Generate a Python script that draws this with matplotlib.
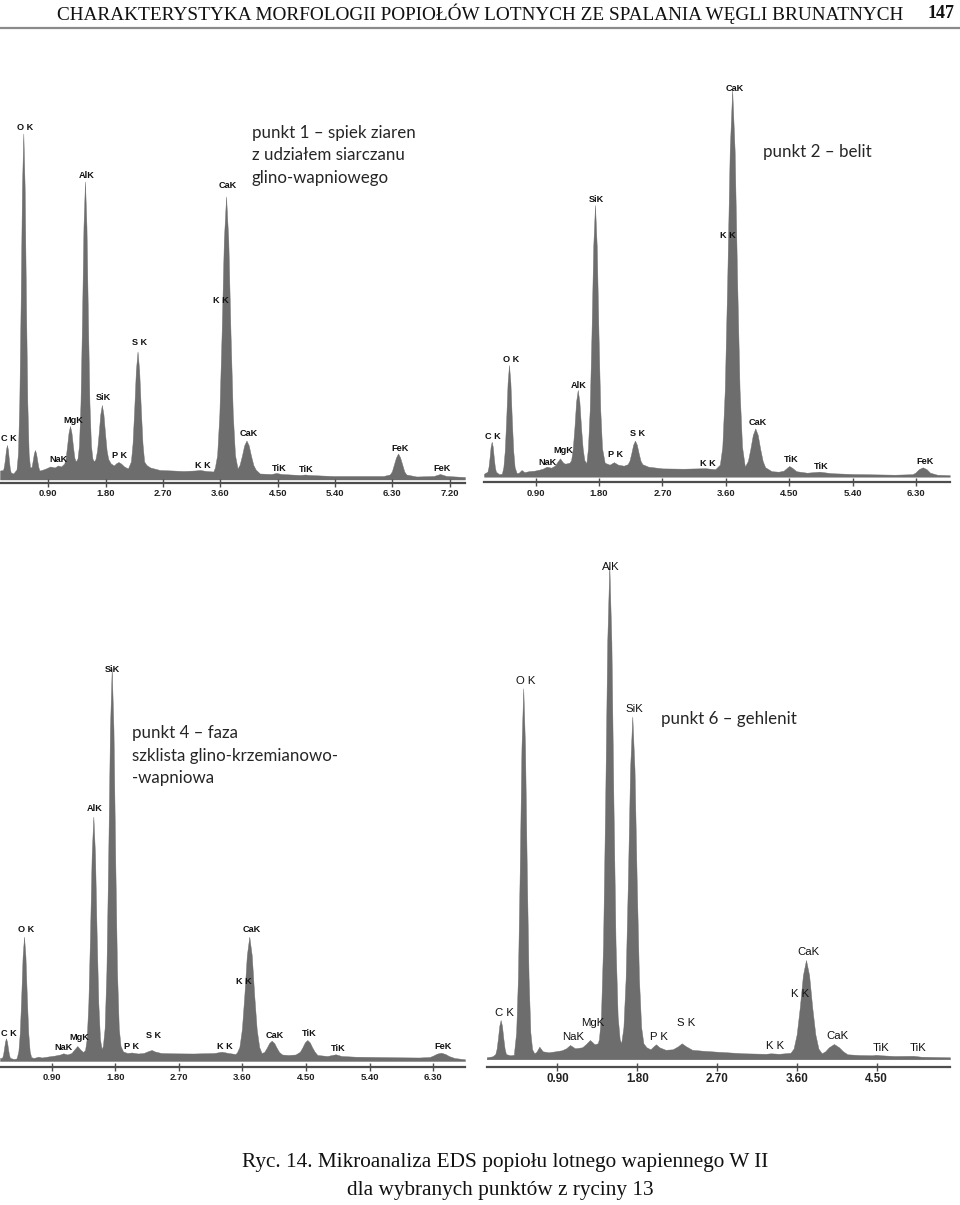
import matplotlib
matplotlib.use('Agg')
import matplotlib.pyplot as plt
from matplotlib.lines import Line2D
from matplotlib import font_manager

# ---------------------------------------------------------------- data
header_text = "CHARAKTERYSTYKA MORFOLOGII POPIOŁÓW LOTNYCH ZE SPALANIA WĘGLI BRUNATNYCH"
page_number = "147"
caption_lines = ["Ryc. 14. Mikroanaliza EDS popiołu lotnego wapiennego W II",
                 "dla wybranych punktów z ryciny 13"]

# panel 1 – spectrum outline (keV, counts)
p1_energy = [0.141, 0.19, 0.205, 0.22, 0.235, 0.25, 0.265, 0.28, 0.295, 0.31, 0.35,
             0.40, 0.423, 0.444, 0.465, 0.486, 0.507, 0.528, 0.549, 0.57, 0.591, 0.612,
             0.6375, 0.655, 0.6725, 0.69, 0.7075, 0.725, 0.7425, 0.76, 0.795, 0.86, 0.93, 1.0, 1.05, 1.1,
             1.15, 1.1725, 1.195, 1.2175, 1.24, 1.2625, 1.285, 1.3075, 1.33,
             1.358, 1.381, 1.4045, 1.428, 1.4515, 1.475, 1.4985, 1.522, 1.5455, 1.569, 1.592,
             1.615, 1.64, 1.665, 1.69, 1.715, 1.74, 1.765, 1.79, 1.815, 1.84, 1.88,
             1.93, 1.96, 2.0, 2.04, 2.09, 2.15,
             2.196, 2.222, 2.248, 2.274, 2.30, 2.326, 2.352, 2.378, 2.404, 2.44, 2.5, 2.65, 2.85, 3.02, 3.2, 3.28, 3.38, 3.49,
             3.515, 3.55, 3.585, 3.62, 3.655, 3.69, 3.725, 3.76, 3.795, 3.83, 3.87,
             3.902, 3.938, 3.974, 4.01, 4.046, 4.082, 4.118, 4.154, 4.22, 4.4, 4.48, 4.56, 4.85, 4.93, 5.0, 5.37, 5.8, 6.16,
             6.26, 6.2925, 6.325, 6.3575, 6.39, 6.4225, 6.455, 6.4875, 6.52, 6.68, 6.95, 7.05, 7.15, 7.44]
p1_counts = [9, 9.5, 14, 21, 30, 34.5, 30, 20, 11, 7, 6,
             10, 26, 77, 176, 292, 346, 292, 176, 77, 26, 12,
             12.5, 19, 26, 29.5, 26, 19, 12.5, 9, 9.5, 11, 13, 12, 14, 13,
             16, 22, 34, 47, 53.5, 47, 34, 22, 18,
             21, 34, 76, 158, 253, 298, 253, 158, 76, 34, 21,
             18, 20.5, 29, 46, 65, 74.5, 65, 46, 29, 20.5, 16,
             14, 16, 17.5, 16, 13, 11,
             18, 36, 70, 109, 128, 109, 70, 36, 18, 14.5, 12, 9.5, 9, 8.5, 9, 9.5, 8.5, 8,
             12, 24.5, 66, 145.5, 239, 283, 239, 145.5, 66, 24.5, 11,
             14.5, 23.5, 34, 39, 34, 23.5, 14.5, 10, 6, 5.5, 6.5, 5.5, 4.5, 5, 4.5, 3.5, 3.5, 3.5,
             5, 8, 15, 22, 26, 22, 15, 8, 5, 3, 3.5, 5.5, 3.5, 2.5]
p1_labels = ['C K', 'O K', 'NaK', 'MgK', 'AlK', 'SiK', 'P K', 'S K', 'K K', 'K K',
             'CaK', 'CaK', 'TiK', 'TiK', 'FeK', 'FeK']
p1_label_energy = [0.286, 0.534, 1.063, 1.292, 1.502, 1.758, 2.025, 2.33, 3.33, 3.615,
                   3.71, 4.04, 4.53, 4.945, 6.42, 7.075]
p1_label_counts = [41, 352, 20, 59, 304, 82, 23.5, 137, 14, 179, 293.5, 46, 11, 10, 31, 11]
p1_note = ["punkt 1 – spiek ziaren", "z udziałem siarczanu", "glino-wapniowego"]

# panel 2
p2_energy = [0.166, 0.215, 0.23, 0.245, 0.26, 0.275, 0.29, 0.305, 0.32, 0.335, 0.38, 0.42,
             0.441, 0.461, 0.481, 0.501, 0.521, 0.541, 0.561, 0.581, 0.601, 0.63,
             0.66, 0.70, 0.74, 0.8, 0.88, 0.95, 1.0, 1.057, 1.12, 1.17, 1.2, 1.245, 1.29, 1.32,
             1.38, 1.403, 1.4265, 1.45, 1.4735, 1.497, 1.5205, 1.544, 1.5675, 1.591, 1.62,
             1.642, 1.667, 1.692, 1.717, 1.742, 1.767, 1.792, 1.817, 1.842, 1.88,
             1.95, 2.01, 2.07, 2.15,
             2.206, 2.232, 2.258, 2.284, 2.31, 2.336, 2.362, 2.388, 2.414, 2.5, 2.7, 3.0, 3.31, 3.45, 3.515,
             3.55, 3.585, 3.62, 3.655, 3.69, 3.725, 3.76, 3.795, 3.83, 3.87,
             3.913, 3.948, 3.983, 4.018, 4.053, 4.088, 4.123, 4.158, 4.25, 4.35, 4.42, 4.47, 4.5, 4.54, 4.6,
             4.75, 4.93, 5.1, 5.4, 6.0, 6.25,
             6.29, 6.34, 6.395, 6.45, 6.5, 6.6, 6.78]
p2_counts = [3, 5, 9.7, 19, 30, 35, 30, 19, 9.7, 5, 2.5, 3,
             9.5, 26, 57, 94, 111.7, 94, 57, 26, 9.5, 3.5,
             4, 6.7, 4.5, 5.5, 6, 7, 8, 10, 9, 11, 14, 18.3, 14, 13,
             14, 16.5, 28, 49, 75, 86.7, 75, 49, 28, 16.5, 13.5,
             28.5, 67, 142, 230, 271.7, 230, 142, 67, 28.5, 14,
             12, 14.5, 12, 11,
             12.5, 16, 23.5, 32, 36, 32, 23.5, 16, 12.5, 10, 8.3, 8, 8.5, 7.5, 12,
             30, 87, 197, 326, 386.7, 326, 197, 87, 30, 10,
             15.7, 27.7, 41.7, 48.3, 41.7, 27.7, 15.7, 9.5, 5.5, 5, 6, 9, 10.7, 9, 5.5,
             4, 5, 3.5, 2.7, 2, 2.5,
             4, 7.5, 9.4, 7.5, 4, 2, 1.5]
p2_labels = ['C K', 'O K', 'NaK', 'MgK', 'AlK', 'SiK', 'P K', 'S K', 'K K', 'K K',
             'CaK', 'CaK', 'TiK', 'TiK', 'FeK']
p2_label_energy = [0.298, 0.547, 1.07, 1.292, 1.513, 1.761, 2.04, 2.346, 3.34, 3.624,
                   3.725, 4.047, 4.535, 4.955, 6.432]
p2_label_counts = [40, 117.7, 14, 25.7, 91.7, 277.7, 22.4, 42.7, 13.4, 240.7, 388.4, 54.4, 17.4, 10, 15]
p2_note = ["punkt 2 – belit"]

# panel 4
p4_energy = [0.168, 0.197, 0.211, 0.225, 0.239, 0.253, 0.267, 0.281, 0.295, 0.309, 0.36, 0.40,
             0.408, 0.428, 0.448, 0.468, 0.488, 0.508, 0.528, 0.548, 0.568, 0.588, 0.608, 0.64,
             0.67, 0.71, 0.76, 0.85, 0.95, 1.02, 1.064, 1.12, 1.18, 1.215, 1.262, 1.31, 1.345,
             1.372, 1.395, 1.4185, 1.442, 1.4655, 1.489, 1.5125, 1.536, 1.5595, 1.583, 1.606,
             1.624, 1.649, 1.674, 1.699, 1.724, 1.749, 1.774, 1.799, 1.824, 1.849, 1.874,
             1.91, 1.97, 2.03, 2.12, 2.2, 2.27, 2.315, 2.36, 2.45, 2.6, 2.9, 3.2, 3.305, 3.4, 3.5,
             3.521, 3.556, 3.591, 3.626, 3.661, 3.696, 3.731, 3.766, 3.801, 3.836, 3.87,
             3.908, 3.943, 3.978, 4.013, 4.048, 4.083, 4.118, 4.16, 4.25, 4.35,
             4.412, 4.447, 4.482, 4.517, 4.552, 4.587, 4.622, 4.66, 4.8, 4.918, 5.0, 5.2, 5.5, 5.8, 6.1, 6.25,
             6.3, 6.35, 6.409, 6.47, 6.52, 6.6, 6.749]
p4_counts = [3, 3.2, 6.3, 12.4, 19.4, 22.7, 19.4, 12.4, 6.3, 3.2, 2, 2.5,
             4, 9.8, 28, 63.4, 104.8, 124.3, 104.8, 63.4, 28, 9.8, 4, 3,
             3.5, 4.3, 3.5, 4.5, 5.5, 6.5, 7.7, 6.5, 8, 11, 15, 11, 9,
             11, 22, 58, 126, 206.5, 244.3, 206.5, 126, 58, 22, 12,
             15, 33, 90, 201, 331.5, 392.7, 331.5, 201, 90, 33, 15,
             9.5, 8, 8.5, 7.5, 8, 10, 11, 9.5, 8, 7.7, 7.5, 8, 9.3, 8, 7,
             8.5, 14, 31.6, 65.7, 105.5, 124.3, 105.5, 65.7, 31.6, 14, 8,
             9, 13.2, 18, 20.3, 18, 13.2, 9, 6.5, 6, 6.5,
             9.2, 13.5, 18.6, 21, 18.6, 13.5, 9.2, 6, 5, 6.7, 5, 4.3, 4, 3.7, 3.5, 4,
             5.5, 7.3, 8.3, 7, 5, 3, 1.7]
p4_labels = ['C K', 'O K', 'NaK', 'MgK', 'AlK', 'SiK', 'P K', 'S K', 'K K', 'K K',
             'CaK', 'CaK', 'TiK', 'TiK', 'FeK']
p4_label_energy = [0.293, 0.539, 1.064, 1.296, 1.506, 1.765, 2.033, 2.345, 3.35, 3.624,
                   3.725, 4.055, 4.538, 4.961, 6.437]
p4_label_counts = [27.7, 131, 13.7, 23.3, 252.7, 391.7, 14.3, 25.3, 14.3, 80, 132, 26, 27.7, 12.7, 14.3]
p4_note = ["punkt 4 – faza", "szklista glino-krzemianowo-", "-wapniowa"]

# panel 6
p6_energy = [0.104, 0.17, 0.201, 0.216, 0.231, 0.246, 0.261, 0.276, 0.291, 0.306, 0.321, 0.37, 0.41,
             0.416, 0.436, 0.456, 0.476, 0.496, 0.516, 0.536, 0.556, 0.576, 0.596, 0.616, 0.64,
             0.665, 0.697, 0.735, 0.8, 0.88, 0.95, 1.0, 1.043, 1.1, 1.18, 1.22, 1.268, 1.32, 1.355,
             1.369, 1.392, 1.4155, 1.439, 1.4625, 1.486, 1.5095, 1.533, 1.5565, 1.58, 1.603,
             1.62, 1.645, 1.67, 1.695, 1.72, 1.745, 1.77, 1.795, 1.82, 1.845, 1.87,
             1.905, 1.95, 1.985, 2.012, 2.05, 2.12, 2.2, 2.26, 2.302, 2.35, 2.42, 2.55, 2.7, 3.0, 3.25, 3.306, 3.4,
             3.528, 3.563, 3.598, 3.633, 3.668, 3.703, 3.738, 3.773, 3.808, 3.843, 3.88,
             3.92, 3.96, 4.018, 4.075, 4.12, 4.17, 4.3, 4.45, 4.49, 4.55, 4.7, 4.91, 5.0, 5.326]
p6_counts = [2, 3, 5.2, 10.6, 21.2, 33.5, 39.3, 33.5, 21.2, 10.6, 5.2, 4, 4.5,
             10, 27, 82, 188, 312, 371, 312, 188, 82, 27, 10, 6,
             7.5, 12.6, 8, 7, 8, 9, 11, 14.3, 11, 12, 15, 19.3, 15, 16,
             20, 43, 115, 254, 417, 494, 417, 254, 115, 43, 20,
             16, 32, 81, 177, 290, 342.6, 290, 177, 81, 32, 16,
             12, 10, 13, 15, 12, 9.5, 10, 13, 16, 13, 9.5, 8.5, 7.6, 6, 5.5, 6, 5.5,
             6.5, 10.7, 25, 52, 84, 99.3, 84, 52, 25, 10.7, 6,
             8, 12, 15.3, 12, 8, 5, 4.3, 4, 4.5, 4, 3.3, 3.5, 2.6, 2]
p6_labels = ['C K', 'O K', 'NaK', 'MgK', 'AlK', 'SiK', 'P K', 'S K', 'K K', 'K K',
             'CaK', 'CaK', 'TiK', 'TiK']
p6_label_energy = [0.301, 0.541, 1.075, 1.30, 1.508, 1.77, 2.044, 2.348, 3.351, 3.635,
                   3.735, 4.061, 4.546, 4.963]
p6_label_counts = [46.6, 378.3, 22.6, 36, 492.6, 350, 22.6, 36, 13.3, 65.3, 107, 23.3, 11, 11]
p6_note = ["punkt 6 – gehlenit"]

ticks_p1 = [0.9, 1.8, 2.7, 3.6, 4.5, 5.4, 6.3, 7.2]
ticks_p2 = [0.9, 1.8, 2.7, 3.6, 4.5, 5.4, 6.3]
ticks_p4 = [0.9, 1.8, 2.7, 3.6, 4.5, 5.4, 6.3]
ticks_p6 = [0.9, 1.8, 2.7, 3.6, 4.5]
tick_text = {0.9: '0.90', 1.8: '1.80', 2.7: '2.70', 3.6: '3.60', 4.5: '4.50',
             5.4: '5.40', 6.3: '6.30', 7.2: '7.20'}

# ---------------------------------------------------------------- style
W, H = 960, 1205
FILL = '#6d6d6d'
AXC = '#4d4d4d'
available = {f.name for f in font_manager.fontManager.ttflist}
NARROW = ['Liberation Sans Narrow', 'DejaVu Sans'] if 'Liberation Sans Narrow' in available \
    else ['Liberation Sans', 'DejaVu Sans']
SANS = ['Liberation Sans', 'DejaVu Sans']
NOTE = ['Lato', 'DejaVu Sans']
SERIF = ['Liberation Serif', 'DejaVu Serif']

fig = plt.figure(figsize=(W / 100, H / 100), dpi=100)
fig.patch.set_facecolor('white')


def fx(x):
    return x / W


def fy(y):
    return 1 - y / H


panels = [
    dict(E=p1_energy, C=p1_counts, L=p1_labels, LE=p1_label_energy, LC=p1_label_counts,
         ticks=ticks_p1, note=p1_note, x0=0, x1=465, e0=0.141, e1=7.441,
         ytop=100, axis_y=482.5, base_y=479.5, note_xy=(252, 133), note_dy=22.5,
         lab_fs=6.6, lab_font=NARROW, lab_w='bold', tick_fs=6.8),
    dict(E=p2_energy, C=p2_counts, L=p2_labels, LE=p2_label_energy, LC=p2_label_counts,
         ticks=ticks_p2, note=p2_note, x0=484, x1=950, e0=0.166, e1=6.783,
         ytop=70, axis_y=482.3, base_y=476.7, note_xy=(763, 152), note_dy=22.5,
         lab_fs=6.6, lab_font=NARROW, lab_w='bold', tick_fs=6.8),
    dict(E=p4_energy, C=p4_counts, L=p4_labels, LE=p4_label_energy, LC=p4_label_counts,
         ticks=ticks_p4, note=p4_note, x0=0, x1=465, e0=0.168, e1=6.749,
         ytop=640, axis_y=1066.7, base_y=1061, note_xy=(132, 733), note_dy=22.5,
         lab_fs=6.6, lab_font=NARROW, lab_w='bold', tick_fs=6.8),
    dict(E=p6_energy, C=p6_counts, L=p6_labels, LE=p6_label_energy, LC=p6_label_counts,
         ticks=ticks_p6, note=p6_note, x0=486.7, x1=950, e0=0.104, e1=5.326,
         ytop=550, axis_y=1066.7, base_y=1059.3, note_xy=(661, 719), note_dy=22.5,
         lab_fs=8.2, lab_font=SANS, lab_w='normal', tick_fs=8.4),
]

for p in panels:
    assert len(p['E']) == len(p['C'])
    ax = fig.add_axes([fx(p['x0']), fy(p['axis_y']), fx(p['x1'] - p['x0']),
                       (p['axis_y'] - p['ytop']) / H])
    ax.set_xlim(p['e0'], p['e1'])
    ax.set_ylim(-(p['axis_y'] - p['base_y']), p['base_y'] - p['ytop'])
    ax.fill_between(p['E'], 0, p['C'], color=FILL, lw=0.3, edgecolor=FILL)
    for s in ('top', 'right', 'left'):
        ax.spines[s].set_visible(False)
    ax.spines['bottom'].set_color(AXC)
    ax.spines['bottom'].set_linewidth(1.6)
    ax.set_yticks([])
    ax.set_xticks(p['ticks'])
    ax.set_xticklabels([tick_text[t] for t in p['ticks']], fontfamily=NARROW,
                       fontweight='bold', fontsize=p['tick_fs'], color='#222222')
    ax.tick_params(axis='x', direction='inout', length=6, width=1.0, color=AXC, pad=1.5)
    ax.patch.set_alpha(0)
    for name, e, c in zip(p['L'], p['LE'], p['LC']):
        ax.text(e, c, name, ha='center', va='center', fontsize=p['lab_fs'],
                family=p['lab_font'], fontweight=p['lab_w'], color='#111111', clip_on=False)
    nx, ny = p['note_xy']
    for i, line in enumerate(p['note']):
        fig.text(fx(nx), fy(ny + i * p['note_dy']), line, ha='left', va='center',
                 fontsize=12.2, family=NOTE, color='#262626')

# header
renderer = fig.canvas.get_renderer()
hdr = fig.text(fx(57), fy(14), header_text, ha='left', va='center', fontsize=12,
               family=SERIF, color='#111111')
wpx = hdr.get_window_extent(renderer).width
hdr.set_fontsize(12 * 843 / wpx)
fig.text(fx(955), fy(13), page_number, ha='right', va='center', fontsize=13,
         family=SERIF, fontweight='bold', color='#111111')
fig.add_artist(Line2D([0, 1], [fy(27.5), fy(27.5)], color='#8a8a8a', lw=1.6))

# caption
cap1 = fig.text(fx(505), fy(1163), caption_lines[0], ha='center', va='center',
                fontsize=16, family=SERIF, color='#111111')
w1 = cap1.get_window_extent(renderer).width
cs = 16 * 526 / w1
cap1.set_fontsize(cs)
fig.text(fx(500), fy(1190), caption_lines[1], ha='center', va='center',
         fontsize=cs, family=SERIF, color='#111111')

fig.savefig('out.png', dpi=100, facecolor='white')
